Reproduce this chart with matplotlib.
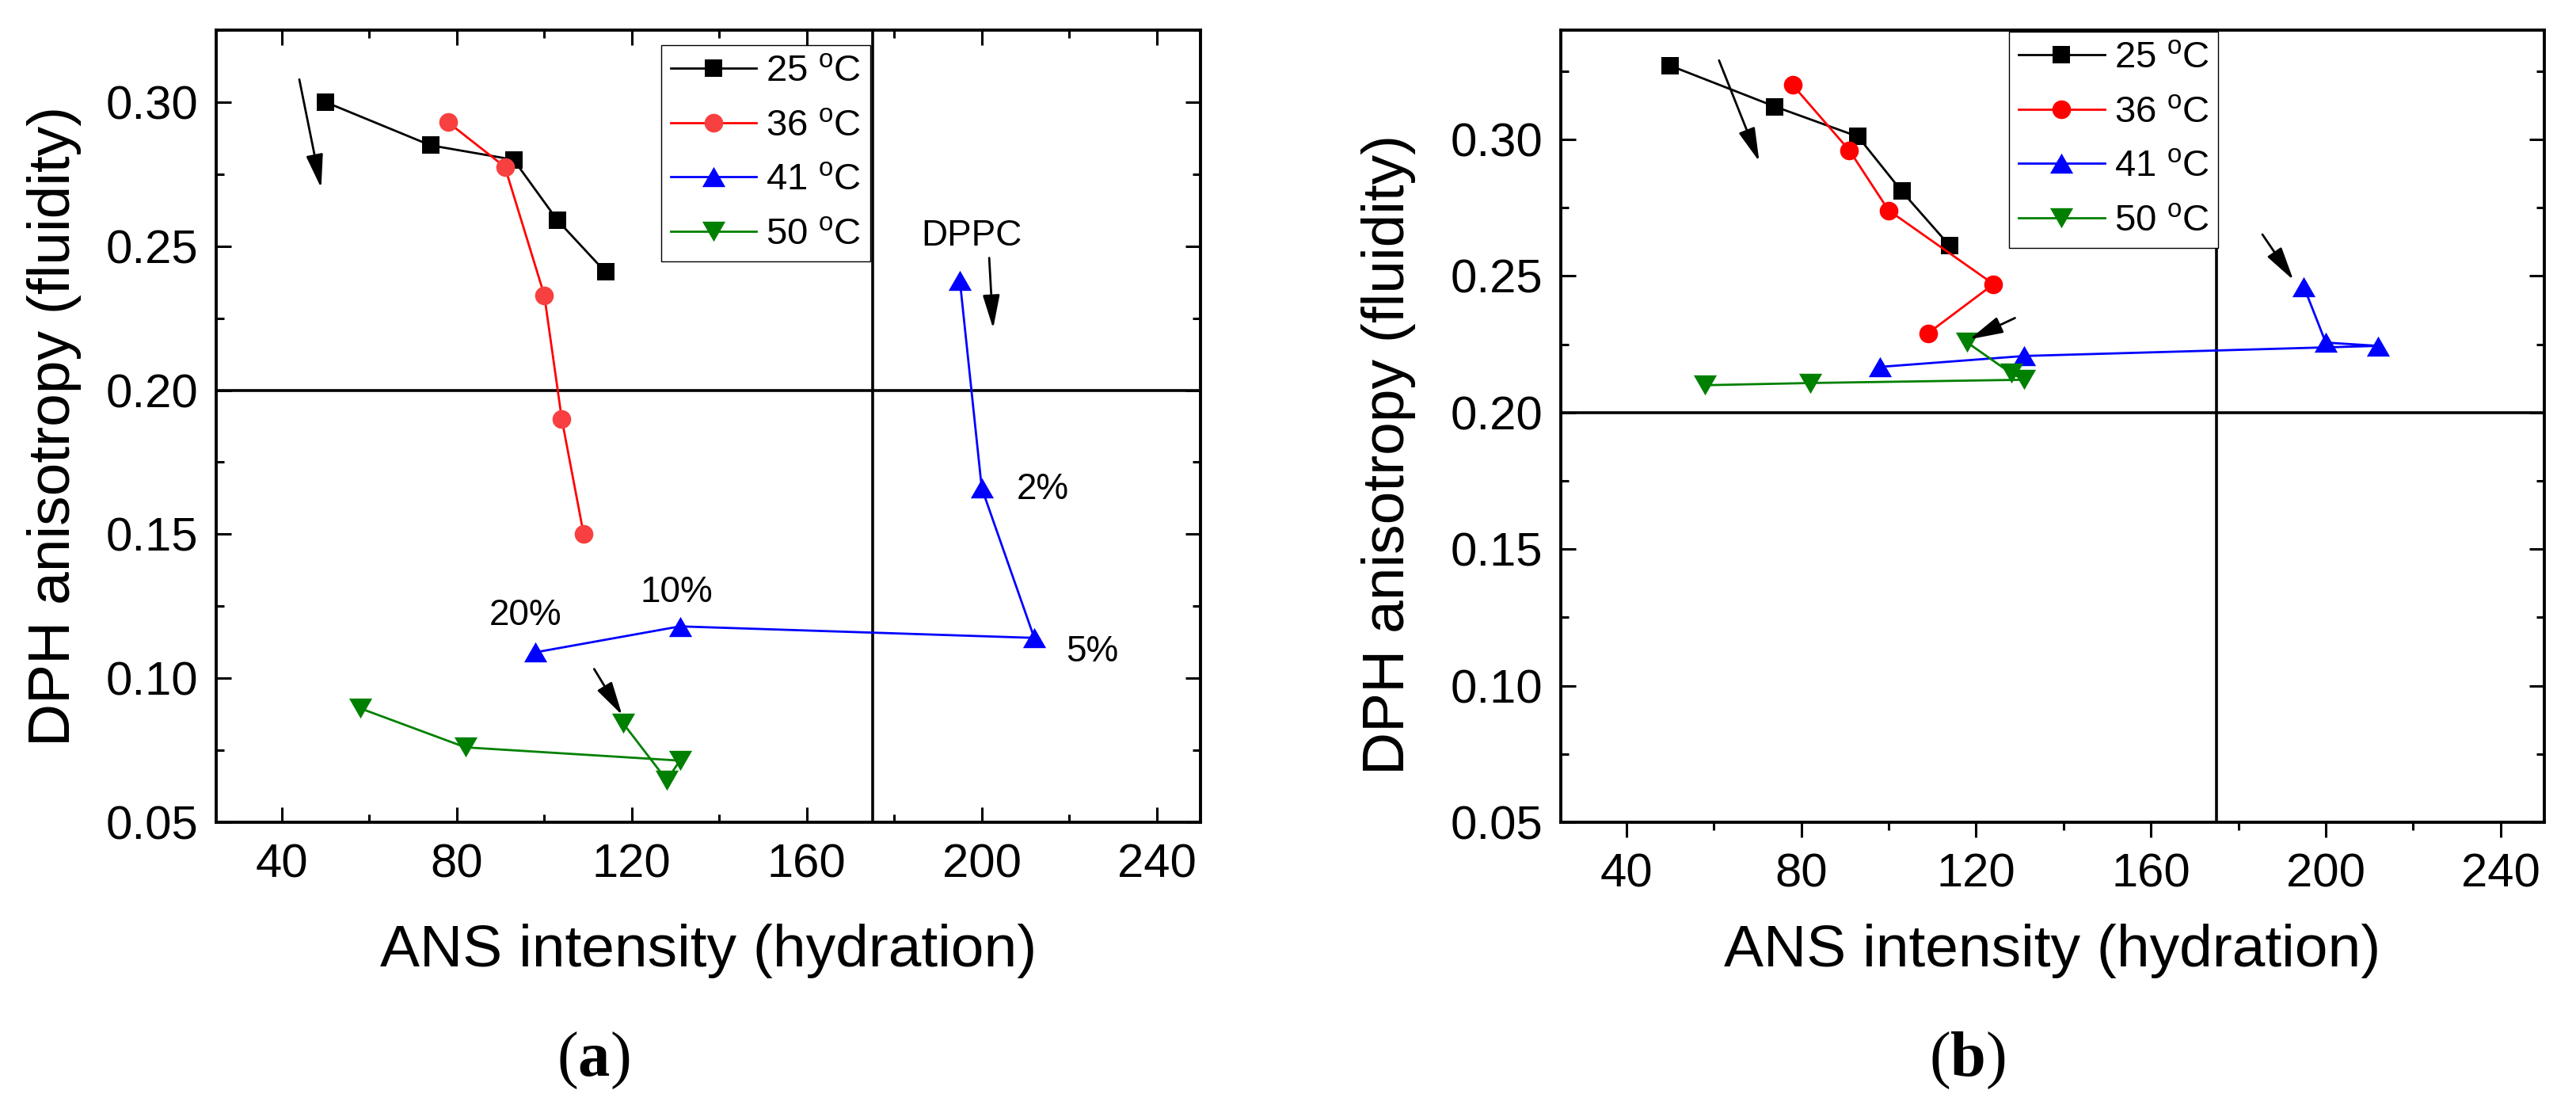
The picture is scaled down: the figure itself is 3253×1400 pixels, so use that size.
import matplotlib
matplotlib.use("Agg")
import matplotlib.pyplot as plt
from matplotlib.ticker import MultipleLocator, FormatStrFormatter

plt.rcParams["font.family"] = "Liberation Sans"
plt.rcParams["mathtext.fontset"] = "custom"
plt.rcParams["mathtext.rm"] = "Liberation Sans"
plt.rcParams["mathtext.bf"] = "Liberation Serif:bold"

# ---- data ----
temps = ["25", "36", "41", "50"]

x_25 = [50, 74, 93, 103, 114]
x_36a = [78, 91, 100, 104, 109]
x_36b = [78, 91, 100, 124, 109]
x_41 = [195, 200, 212, 131, 98]
x_50 = [118, 128, 131, 82, 58]

y_25a = [0.300, 0.285, 0.280, 0.259, 0.241]
y_36a = [0.293, 0.2775, 0.233, 0.190, 0.150]
y_41a = [0.238, 0.166, 0.114, 0.118, 0.109]
y_50a = [0.0844, 0.0646, 0.0714, 0.0760, 0.0895]

y_25b = [0.327, 0.312, 0.301, 0.281, 0.261]
y_36b = [0.320, 0.296, 0.274, 0.247, 0.229]
y_41b = [0.246, 0.2256, 0.2244, 0.2207, 0.2167]
y_50b = [0.2256, 0.2144, 0.2120, 0.2108, 0.2100]

labels_a = ["DPPC", "2%", "5%", "10%", "20%"]
label_pos_a = [(197.6, 0.2536), (214.0, 0.1654), (225.2, 0.1091), (130.2, 0.1298), (95.7, 0.1219)]

arrows_a = [((44.0, 0.3079), (49.0, 0.2702)),
            ((201.7, 0.2459), (202.6, 0.2214)),
            ((111.4, 0.1032), (117.8, 0.0872))]
arrows_b = [((61.2, 0.3289), (70.4, 0.2919)),
            ((185.5, 0.2652), (192.6, 0.2485)),
            ((128.9, 0.2346), (118.5, 0.2268))]

TRI_UP = [(0, 0.87), (-1, -0.87), (1, -0.87), (0, 0.87)]
TRI_DN = [(0, -0.87), (-1, 0.87), (1, 0.87), (0, -0.87)]


def series_style(t, panel):
    if t == "25":
        return dict(color="black", marker="s", ms=16)
    if t == "36":
        face = "#f84040" if panel == "a" else "red"
        return dict(color="red", marker="o", ms=17, mfc=face)
    if t == "41":
        return dict(color="blue", marker=TRI_UP, ms=21)
    return dict(color="#008000", marker=TRI_DN, ms=21)


def setup_axes(ax, ytop, panel):
    ax.set_xlim(25, 250)
    ax.set_ylim(0.05, ytop)
    ax.xaxis.set_major_locator(MultipleLocator(40))
    ax.xaxis.set_minor_locator(MultipleLocator(20))
    ax.yaxis.set_major_locator(MultipleLocator(0.05))
    ax.yaxis.set_minor_locator(MultipleLocator(0.025))
    ax.yaxis.set_major_formatter(FormatStrFormatter("%.2f"))
    for sp in ax.spines.values():
        sp.set_linewidth(2.8)
    ax.tick_params(axis="y", which="both", direction="in", left=True, right=True,
                   labelsize=43, pad=16.5, width=2.2)
    if panel == "a":
        ax.tick_params(axis="x", which="both", direction="in", top=True, bottom=True,
                       labelsize=43, pad=19, width=2.2)
    else:
        ax.tick_params(axis="x", which="both", direction="out", top=False, bottom=True,
                       labelsize=43, pad=14, width=2.2)
    ax.tick_params(which="major", length=14)
    ax.tick_params(which="minor", length=7)
    ax.axhline(0.20, color="black", lw=2.6, zorder=1.5)
    ax.axvline(175, color="black", lw=2.6, zorder=1.5)
    ax.set_xlabel("ANS intensity (hydration)", fontsize=54)
    ax.set_ylabel("DPH anisotropy (fluidity)", fontsize=54)
    ax.xaxis.set_label_coords(0.5, -0.128)


def draw_arrow(ax, tail, tip):
    ax.annotate("", xy=tip, xytext=tail,
                arrowprops=dict(arrowstyle="-|>,head_length=1.3,head_width=0.33",
                                lw=2, color="black", mutation_scale=20,
                                shrinkA=0, shrinkB=0))


fig = plt.figure(figsize=(32.53, 14), dpi=100)
ax_a = fig.add_axes([0.08392, 0.25857, 0.38211, 0.71429])
ax_b = fig.add_axes([0.60590, 0.25857, 0.38180, 0.71429])

data_a = {"25": (x_25, y_25a), "36": (x_36a, y_36a), "41": (x_41, y_41a), "50": (x_50, y_50a)}
data_b = {"25": (x_25, y_25b), "36": (x_36b, y_36b), "41": (x_41, y_41b), "50": (x_50, y_50b)}

for ax, data, panel in [(ax_a, data_a, "a"), (ax_b, data_b, "b")]:
    for t in temps:
        xs, ys = data[t]
        ax.plot(xs, ys, lw=2.0, mew=0, label=r"%s $^{\rm o}$C" % t, **series_style(t, panel))

setup_axes(ax_a, 0.325, "a")
setup_axes(ax_b, 0.340, "b")
ax_a.yaxis.set_label_coords(-0.1368, 0.5)
ax_b.yaxis.set_label_coords(-0.1473, 0.464)

for txt, (x, y) in zip(labels_a, label_pos_a):
    ax_a.text(x, y, txt, fontsize=33, ha="center", va="center")
for tail, tip in arrows_a:
    draw_arrow(ax_a, tail, tip)
for tail, tip in arrows_b:
    draw_arrow(ax_b, tail, tip)

for ax, anchor in [(ax_a, (0.452, 0.981)), (ax_b, (0.456, 0.998))]:
    leg = ax.legend(loc="upper left", bbox_to_anchor=anchor, borderaxespad=0,
                    fontsize=34, fancybox=False, edgecolor="black", framealpha=1,
                    handlelength=2.3, handletextpad=0.25, labelspacing=0.52,
                    borderpad=0.25, numpoints=1)
    leg.get_frame().set_linewidth(1.0)

fig.text(0.2302, 0.0298, r"($\mathbf{a}$)", fontsize=58, family="Liberation Serif",
         ha="center", va="baseline")
fig.text(0.7636, 0.0298, r"($\mathbf{b}$)", fontsize=58, family="Liberation Serif",
         ha="center", va="baseline")

fig.savefig("out.png", dpi=100)
